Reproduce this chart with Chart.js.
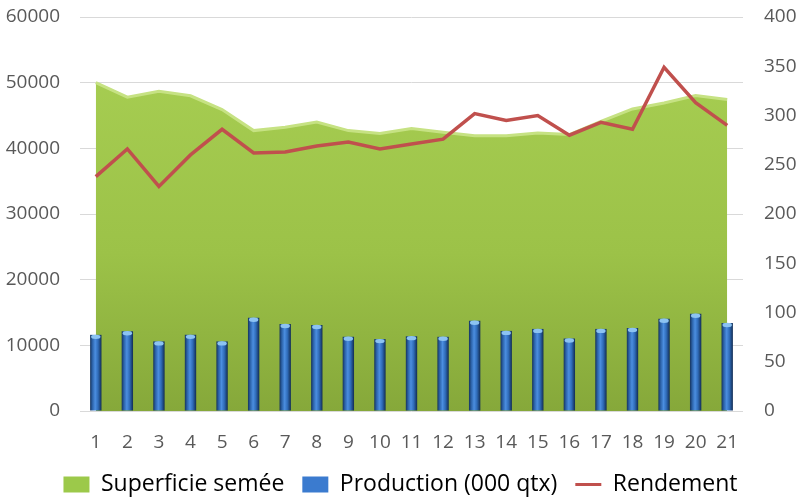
<!DOCTYPE html>
<html>
<head>
<meta charset="utf-8">
<script src="https://cdn.jsdelivr.net/npm/chart.js@4.4.0/dist/chart.umd.min.js"></script>
<style>
  html, body { margin: 0; padding: 0; background: #fff; }
  canvas { display: block; }
</style>
</head>
<body>
<canvas id="chart" width="801" height="499"></canvas>
<script>
// valeurs
const categories = ["1", "2", "3", "4", "5", "6", "7", "8", "9", "10", "11",
  "12", "13", "14", "15", "16", "17", "18", "19", "20", "21"];
const superficie = [50000, 47800, 48700, 48000, 45900, 42700, 43200, 44000, 42700, 42250, 43000,
  42450, 41900, 41900, 42350, 42100, 44100, 46000, 46900, 48050, 47450];
const production = [11600, 12150, 10600, 11600, 10600, 14200, 13250, 13100, 11300, 10950, 11400,
  11300, 13750, 12200, 12500, 11050, 12500, 12650, 14050, 14800, 13400];
const rendement = [238, 266, 228, 260, 286, 262, 263, 269, 273, 266, 271,
  276, 302, 295, 300, 280, 293, 286, 349, 313, 290];
const leftTicks = ["0", "10000", "20000", "30000", "40000", "50000", "60000"];
const rightTicks = ["0", "50", "100", "150", "200", "250", "300", "350", "400"];
const seriesNames = ["Superficie semée", "Production (000 qtx)", "Rendement"];

const textColor = "#595959";
const fontFamily = "'Open Sans', sans-serif";

function areaFill(context) {
  const { chart } = context;
  const area = chart.chartArea;
  if (!area) return "#9bc24a";
  const g = chart.ctx.createLinearGradient(0, area.top, 0, area.bottom);
  g.addColorStop(0, "#a9d054");
  g.addColorStop(0.6, "#9cc248");
  g.addColorStop(1, "#86a83a");
  return g;
}

function barFill(context) {
  const { chart } = context;
  const x = chart.scales.x;
  if (!x || !chart.chartArea || context.dataIndex === undefined) return "#3a78c8";
  const cx = x.getPixelForValue(context.dataIndex);
  const half = (x.width / categories.length) * 0.36 / 2;
  const g = chart.ctx.createLinearGradient(cx - half, 0, cx + half, 0);
  g.addColorStop(0, "#15335c");
  g.addColorStop(0.2, "#2c62a8");
  g.addColorStop(0.45, "#4b8ee0");
  g.addColorStop(0.7, "#2f6bb8");
  g.addColorStop(1, "#122c52");
  return g;
}

// petit chapeau clair en haut de chaque barre
const barCaps = {
  id: "barCaps",
  afterDatasetDraw(chart, args) {
    if (args.index !== 1) return;
    const ctx = chart.ctx;
    ctx.save();
    for (const el of args.meta.data) {
      ctx.fillStyle = "#8cc3f2";
      ctx.beginPath();
      ctx.ellipse(el.x, el.y + 2, el.width / 2 - 1, 2.2, 0, 0, Math.PI * 2);
      ctx.fill();
    }
    ctx.restore();
  }
};

function fixY(width) {
  return (s) => {
    s.width = width;
    s.paddingTop = 0;
    s.paddingBottom = 0;
  };
}

new Chart(document.getElementById("chart"), {
  data: {
    labels: categories,
    datasets: [
      {
        type: "line",
        label: seriesNames[0],
        data: superficie,
        yAxisID: "y",
        fill: "origin",
        backgroundColor: areaFill,
        borderColor: "#c6e283",
        borderWidth: 3,
        pointRadius: 0,
        tension: 0,
        order: 3,
      },
      {
        type: "bar",
        label: seriesNames[1],
        data: production,
        yAxisID: "y",
        backgroundColor: barFill,
        barPercentage: 0.36,
        categoryPercentage: 1,
        order: 2,
      },
      {
        type: "line",
        label: seriesNames[2],
        data: rendement,
        yAxisID: "y1",
        borderColor: "#c0504d",
        borderWidth: 3.5,
        pointRadius: 0,
        tension: 0,
        fill: false,
        order: 1,
      },
    ]
  },
  options: {
    responsive: false,
    animation: false,
    layout: { autoPadding: false, padding: { top: 17, bottom: -7, left: 0, right: 0 } },
    plugins: {
      tooltip: { enabled: false },
      legend: {
        position: "bottom",
        labels: {
          color: textColor,
          font: { family: fontFamily, size: 23 },
          usePointStyle: true,
          pointStyleWidth: 26,
          boxHeight: 16,
          padding: 18,
          generateLabels: () => [
            { text: seriesNames[0], fillStyle: "#9cc94a", strokeStyle: "#9cc94a", lineWidth: 0, pointStyle: "rect", datasetIndex: 0 },
            { text: seriesNames[1], fillStyle: "#3b7bcf", strokeStyle: "#3b7bcf", lineWidth: 0, pointStyle: "rect", datasetIndex: 1 },
            { text: seriesNames[2], fillStyle: "#c0504d", strokeStyle: "#c0504d", lineWidth: 3, pointStyle: "line", datasetIndex: 2 },
          ],
        },
      },
    },
    scales: {
      x: {
        offset: true,
        grid: { display: false, drawTicks: false },
        border: { display: false },
        ticks: { color: textColor, font: { family: fontFamily, size: 19 }, padding: 20, maxRotation: 0, autoSkip: false },
        afterFit: (s) => { s.height = 44; },
      },
      y: {
        position: "left",
        min: 0,
        max: 60000,
        grid: { color: "#d9d9d9", lineWidth: 1, drawTicks: false },
        border: { display: false },
        ticks: {
          stepSize: 10000,
          color: textColor,
          font: { family: fontFamily, size: 19 },
          padding: 20,
          callback: (v, i) => leftTicks[i],
        },
        afterFit: fixY(80),
      },
      y1: {
        position: "right",
        min: 0,
        max: 400,
        grid: { display: false, drawTicks: false },
        border: { display: false },
        ticks: {
          stepSize: 50,
          color: textColor,
          font: { family: fontFamily, size: 19 },
          padding: 21,
          callback: (v, i) => rightTicks[i],
        },
        afterFit: fixY(58),
      },
    }
  },
  plugins: [barCaps]
});
</script>
</body>
</html>
